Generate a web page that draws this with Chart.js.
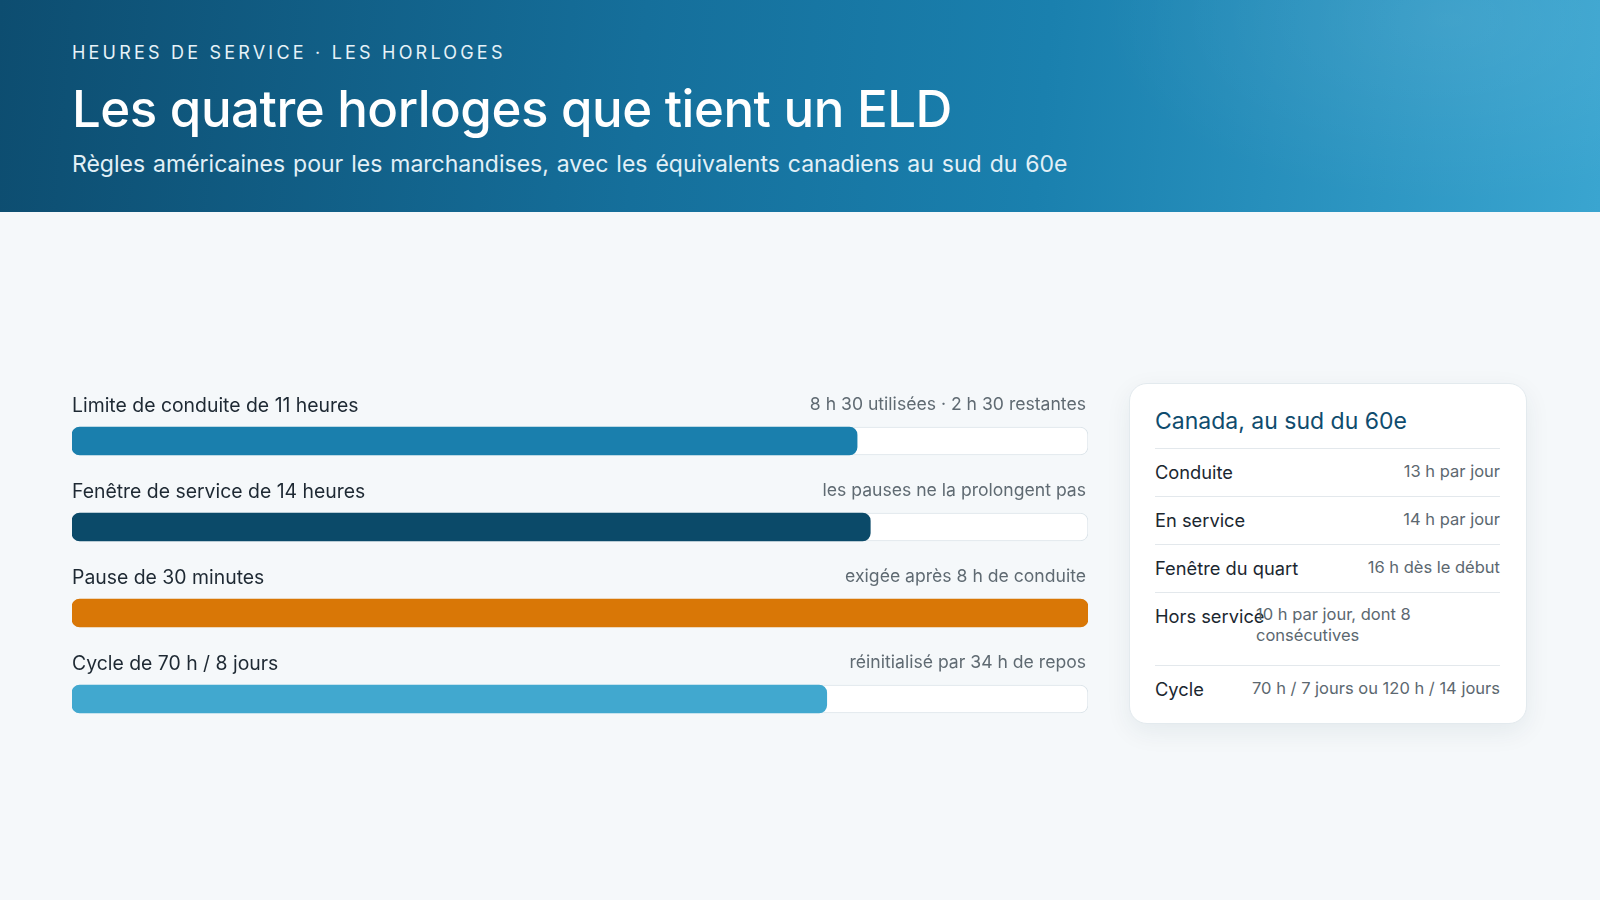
<!DOCTYPE html>
<html lang="fr">
<head>
<meta charset="utf-8">
<title>Les quatre horloges que tient un ELD</title>
<script src="https://cdn.jsdelivr.net/npm/chart.js@4.4.1/dist/chart.umd.min.js"></script>
<style>
  * { box-sizing: border-box; margin: 0; padding: 0; }
  html, body { width: 1600px; height: 900px; overflow: hidden; }
  body { background: #f5f8fa; font-family: Inter, "Noto Sans", sans-serif; color: #1e2933; position: relative; }
  .header {
    position: absolute; left: 0; top: 0; width: 1600px; height: 212px;
    background: radial-gradient(ellipse 500px 260px at 1450px 20px, rgba(255,255,255,0.08), rgba(255,255,255,0) 70%),
                linear-gradient(95deg, #0d4d70 0%, #156f9b 40%, #1a80ae 65%, #3aa5d0 100%);
    color: #fff;
  }
  .eyebrow { position: absolute; left: 72px; top: 42px; font-size: 18px; letter-spacing: 3.2px; font-weight: 400; color: #e6f2f8; }
  .title { position: absolute; left: 72px; top: 78px; font-size: 51px; font-weight: 500; letter-spacing: -0.5px; }
  .subtitle { position: absolute; left: 72px; top: 150px; font-size: 23px; word-spacing: 1.5px; color: #e2f0f7; }
  #chartBox { position: absolute; left: 70px; top: 370px; width: 1020px; height: 380px; }
  .card {
    position: absolute; left: 1129px; top: 383px; width: 398px; height: 341px;
    background: #fff; border: 1px solid #e3eaee; border-radius: 18px;
    box-shadow: 0 8px 26px rgba(20, 50, 70, 0.07);
    padding: 22px 26px 0 25px;
  }
  .card h2 { font-size: 23px; font-weight: 400; color: #0f4c6e; line-height: 30px; margin-bottom: 12px; }
  .row { position: relative; border-top: 1px solid #e3e8ec; height: 48px; }
  .row.tall { height: 73px; }
  .row .k { position: absolute; left: 0; top: 11px; font-size: 18.3px; line-height: 24px; color: #1b2730; white-space: nowrap; }
  .row .v { position: absolute; right: 0; top: 11px; font-size: 16.5px; line-height: 22px; color: #5c6870; white-space: nowrap; text-align: right; }
  .row.tall .v { left: 101px; right: auto; width: 175px; white-space: normal; text-align: left; line-height: 21px; }
</style>
</head>
<body>
<div class="header">
  <div class="eyebrow">HEURES DE SERVICE · LES HORLOGES</div>
  <div class="title">Les quatre horloges que tient un ELD</div>
  <div class="subtitle">Règles américaines pour les marchandises, avec les équivalents canadiens au sud du 60e</div>
</div>

<div id="chartBox"><canvas id="clocks"></canvas></div>

<div class="card" id="card">
  <h2>Canada, au sud du 60e</h2>
</div>

<script>
// US clocks: label, note, hours used and the limit
const clockLabels = [
  'Limite de conduite de 11 heures',
  'Fenêtre de service de 14 heures',
  'Pause de 30 minutes',
  'Cycle de 70 h / 8 jours'
];
const clockNotes = [
  '8 h 30 utilisées · 2 h 30 restantes',
  'les pauses ne la prolongent pas',
  'exigée après 8 h de conduite',
  'réinitialisé par 34 h de repos'
];
const hoursUsed = [8.5, 11, 0.5, 52];
const hoursLimit = [11, 14, 0.5, 70];
const clockColors = ['#1a7fad', '#0b4a69', '#d97706', '#41a8cf'];

// Canada, south of 60
const caLabels = ['Conduite', 'En service', 'Fenêtre du quart', 'Hors service', 'Cycle'];
const caValues = ['13 h par jour', '14 h par jour', '16 h dès le début', '10 h par jour, dont 8 consécutives', '70 h / 7 jours ou 120 h / 14 jours'];

const card = document.getElementById('card');
caLabels.forEach((k, i) => {
  const row = document.createElement('div');
  row.className = 'row' + (i === 3 ? ' tall' : '');
  row.innerHTML = '<span class="k"></span><span class="v"></span>';
  row.querySelector('.k').textContent = k;
  row.querySelector('.v').textContent = caValues[i];
  card.appendChild(row);
});

const usedShare = hoursUsed.map((h, i) => h / hoursLimit[i]);
const trackShare = hoursLimit.map(() => 1);

// labels above each bar, placed from the bar elements
const rowLabels = {
  id: 'rowLabels',
  afterDatasetsDraw(chart) {
    const { ctx, chartArea } = chart;
    const bars = chart.getDatasetMeta(1).data;
    ctx.save();
    ctx.textBaseline = 'alphabetic';
    bars.forEach((bar, i) => {
      const top = bar.y - bar.height / 2;
      ctx.font = '19.4px Inter, "Noto Sans", sans-serif';
      ctx.fillStyle = '#1e2933';
      ctx.textAlign = 'left';
      ctx.fillText(clockLabels[i], chartArea.left, top - 15);
      ctx.font = '17.6px Inter, "Noto Sans", sans-serif';
      ctx.fillStyle = '#5f6a72';
      ctx.textAlign = 'right';
      ctx.fillText(clockNotes[i], chartArea.right - 2, top - 17);
    });
    ctx.restore();
  }
};

new Chart(document.getElementById('clocks'), {
  type: 'bar',
  data: {
    labels: clockLabels,
    datasets: [
      {
        label: 'utilisé',
        data: usedShare,
        backgroundColor: clockColors,
        borderRadius: 8,
        borderSkipped: false,
        barThickness: 28,
        grouped: false,
        order: 0
      },
      {
        label: 'limite',
        data: trackShare,
        backgroundColor: '#ffffff',
        borderColor: '#dde5ea',
        borderWidth: 1,
        borderRadius: 8,
        borderSkipped: false,
        barThickness: 28,
        grouped: false,
        order: 1
      }
    ]
  },
  options: {
    indexAxis: 'y',
    responsive: true,
    maintainAspectRatio: false,
    animation: false,
    layout: { padding: { top: 28, bottom: 8, left: 2, right: 2 } },
    plugins: {
      legend: { display: false },
      tooltip: { enabled: false }
    },
    scales: {
      x: { min: 0, max: 1, display: false },
      y: { display: false }
    }
  },
  plugins: [rowLabels]
});
</script>
</body>
</html>
